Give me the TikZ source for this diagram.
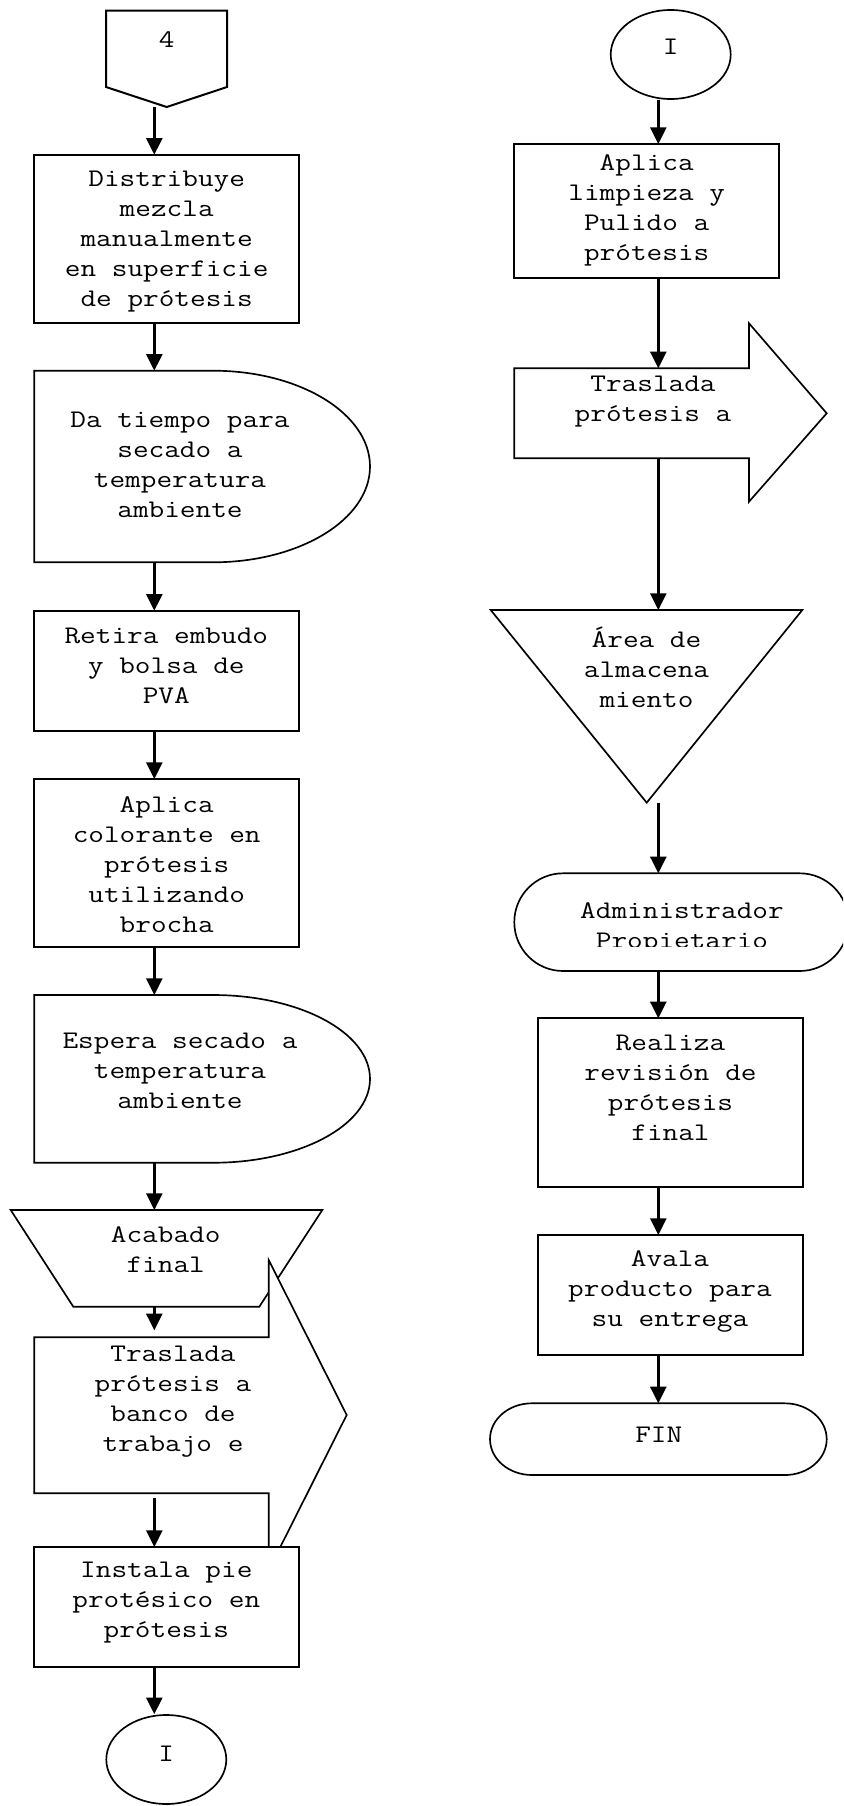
\documentclass[tikz,border=0pt]{standalone}
\usepackage{fontspec}
\setmonofont{Latin Modern Mono}[FakeStretch=1.2]
\usetikzlibrary{arrows.meta,fit,shapes.geometric}

\begin{document}
\begin{tikzpicture}[x=0.75pt,y=-0.75pt,
  outline/.style={draw=black, line width=1.5pt, fill=white},
  thinline/.style={draw=black, line width=1.25pt, fill=white},
  shapebox/.style={fit={#1}, inner sep=0pt, outer sep=0pt},
  txt/.style={font=\ttfamily\fontsize{19pt}{22.5pt}\selectfont, align=center, inner sep=0pt},
  flow/.style={line width=2pt, -{Triangle[length=12.5pt,width=12pt]}},
]
\clip (0,0) rectangle (843,1806);
\fill[white] (0,0) rectangle (843,1806);

% axes of the two columns of arrows
\coordinate (colL) at (154.3,0);
\coordinate (colR) at (658.3,0);

% ---------------- left column ----------------
% off-page connector
\draw[outline] (106,10.7) -- (227,10.7) -- (227,87) -- (166.7,107) -- (106,87) -- cycle;
\node[shapebox={(106,10.7) (227,107)}] (c4) {};
\node[txt] (c4t) at (166.7,40) {4};

\node[shapebox={(34.3,154.7) (299,322.7)}, outline] (d1) {};
\node[txt] (d1t) at (166.7,242) {Distribuye\\mezcla\\manualmente\\en superficie\\de prótesis};

% delay
\draw[thinline] (34.3,370.7) -- (213,370.7)
  arc[start angle=90, end angle=-90, x radius=117.75pt, y radius=71.85pt]
  -- (34.3,562.3) -- cycle;
\node[shapebox={(34.3,370.7) (370,562.3)}] (d2) {};
\node[txt] (d2t) at (180,465) {Da tiempo para\\secado a\\temperatura\\ambiente};

\node[shapebox={(34.3,610.7) (299,730.7)}, outline] (d3) {};
\node[txt] (d3t) at (166.3,666) {Retira embudo\\y bolsa de\\PVA};

\node[shapebox={(34.3,779) (299,947)}, outline] (d4) {};
\node[txt] (d4t) at (166.7,865) {Aplica\\colorante en\\prótesis\\utilizando\\brocha};

% delay
\draw[thinline] (34.3,995) -- (213,995)
  arc[start angle=90, end angle=-90, x radius=117.75pt, y radius=62.9pt]
  -- (34.3,1162.7) -- cycle;
\node[shapebox={(34.3,995) (370,1162.7)}] (d5) {};
\node[txt] (d5t) at (180,1071) {Espera secado a\\temperatura\\ambiente};

% manual operation (trapezoid)
\draw[thinline] (10.7,1210) -- (322.3,1210) -- (259.3,1306.7) -- (73.3,1306.7) -- cycle;
\node[shapebox={(10.7,1210) (322.3,1306.7)}] (d6) {};
\node[txt] (d6t) at (165.7,1250) {Acabado\\final};

% transport (block arrow)
\draw[thinline] (34.3,1337.3) -- (268.7,1337.3) -- (268.7,1260) -- (346.7,1415)
  -- (268.7,1570) -- (268.7,1493.3) -- (34.3,1493.3) -- cycle;
\node[shapebox={(34.3,1337.3) (268.7,1493.3)}] (d7) {};
\node[txt] (d7t) at (173,1402) {Traslada\\prótesis a\\banco de\\trabajo e};

\node[shapebox={(34.3,1547) (299,1666.7)}, outline] (d8) {};
\node[txt] (d8t) at (166.3,1603) {Instala pie\\protésico en\\prótesis};

\node[ellipse, draw, line width=1.25pt, fill=white, minimum width=90pt, minimum height=66.75pt, inner sep=0pt] (e1) at (166.3,1759.5) {};
\node[txt] (e1t) at (166.3,1754) {I};

% ---------------- right column ----------------
\node[ellipse, draw, line width=1.25pt, fill=white, minimum width=90pt, minimum height=66.75pt, inner sep=0pt] (e2) at (670.7,54.5) {};
\node[txt] (e2t) at (670.7,46.5) {I};

\node[shapebox={(514.3,144) (779,278.3)}, outline] (r1) {};
\node[txt] (r1t) at (646.7,210) {Aplica\\limpieza y\\Pulido a\\prótesis};

% transport (block arrow)
\draw[thinline] (514.3,368.3) -- (749,368.3) -- (749,323.3) -- (826.7,413.3)
  -- (749,501.7) -- (749,458.3) -- (514.3,458.3) -- cycle;
\node[shapebox={(514.3,368.3) (749,458.3)}] (r2) {};
\node[txt] (r2t) at (653,401.5) {Traslada\\prótesis a};

% storage (inverted triangle)
\draw[thinline] (490.7,610) -- (802.3,610) -- (646.7,802.7) -- cycle;
\node[shapebox={(490.7,610) (802.3,802.7)}] (r3) {};
\node[txt] (r3t) at (646.5,667) {Área de\\almacena\\miento};

% terminal with the responsible person; its label is cut off below
\node[shapebox={(514.3,873.3) (848.5,971)}, draw, line width=1.25pt, fill=white, rounded corners=36.6pt] (r4) {};
\begin{scope}
  \clip (500,880) rectangle (843,946);
  \node[txt] (r4t) at (682,928) {Administrador\\Propietario};
\end{scope}

\node[shapebox={(538.3,1018.3) (802.7,1187.3)}, outline] (r5) {};
\node[txt] (r5t) at (670.5,1088) {Realiza\\revisión de\\prótesis\\final};

\node[shapebox={(538.3,1235) (802.7,1355)}, outline] (r6) {};
\node[txt] (r6t) at (670,1291) {Avala\\producto para\\su entrega};

% end terminal
\draw[thinline] (532,1403.3) -- (784.7,1403.3)
  arc[start angle=90, end angle=-90, x radius=31.5pt, y radius=26.9pt]
  -- (532,1475)
  arc[start angle=270, end angle=90, x radius=31.5pt, y radius=26.9pt] -- cycle;
\node[shapebox={(490,1403.3) (826.7,1475)}] (r7) {};
\node[txt] (r7t) at (658.8,1435) {FIN};

% ---------------- connectors ----------------
\draw[flow] (c4.south -| colL) -- (d1.north -| colL);
\draw[flow] (d1.south -| colL) -- (d2.north -| colL);
\draw[flow] (d2.south -| colL) -- (d3.north -| colL);
\draw[flow] (d3.south -| colL) -- (d4.north -| colL);
\draw[flow] (d4.south -| colL) -- (d5.north -| colL);
\draw[flow] (d5.south -| colL) -- (d6.north -| colL);
\draw[flow, shorten >=5.25pt] (d6.south -| colL) -- (d7.north -| colL);
\draw[flow, shorten <=3.75pt] (d7.south -| colL) -- (d8.north -| colL);
\draw[flow] (d8.south -| colL) -- (e1.north -| colL);

\draw[flow] (e2.south -| colR) -- (r1.north -| colR);
\draw[flow] (r1.south -| colR) -- (r2.north -| colR);
\draw[flow] (r2.south -| colR) -- (r3.north -| colR);
\draw[flow] (r3.south -| colR) -- (r4.north -| colR);
\draw[flow] (r4.south -| colR) -- (r5.north -| colR);
\draw[flow] (r5.south -| colR) -- (r6.north -| colR);
\draw[flow] (r6.south -| colR) -- (r7.north -| colR);
\end{tikzpicture}
\end{document}
